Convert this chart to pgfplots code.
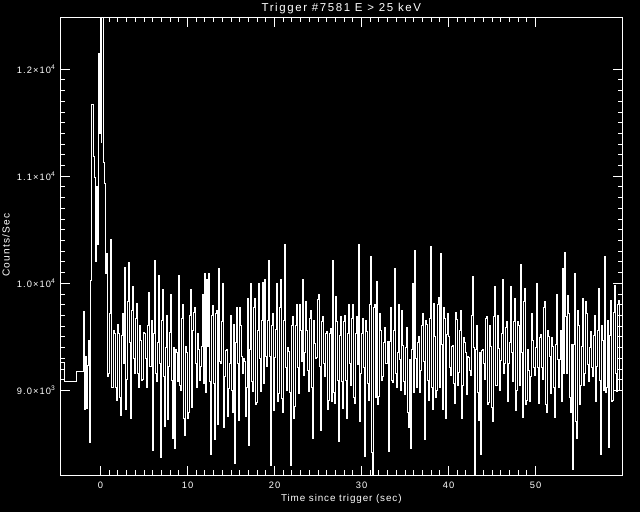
\documentclass[border=0pt]{standalone}
\usepackage{fontspec}
\setmainfont{Liberation Sans}
\usepackage{pgfplots}
\usepackage{pgfplotstable}
\pgfplotsset{compat=1.18}

\pgfplotstableread[header=false,row sep=\\]{
10280\\9130\\9160\\9720\\10410\\9030\\9030\\9560\\9530\\9030\\8910\\9620\\9530\\8930\\8770\\9510\\9720\\9250\\10150\\8820\\9100\\9830\\10190\\9450\\8740\\9750\\9970\\9300\\9160\\9670\\9810\\9160\\9030\\9610\\9470\\9090\\9100\\9540\\9530\\9300\\9030\\9610\\9910\\9220\\9220\\9650\\8440\\9530\\10210\\9160\\9080\\9450\\10070\\9250\\8370\\9650\\9940\\9130\\
8660\\9400\\9700\\8730\\9220\\9540\\9900\\9090\\8550\\9400\\8460\\9380\\9350\\9080\\10070\\9050\\9000\\9670\\9800\\8740\\8580\\9410\\9350\\8740\\8790\\9700\\9940\\8840\\9560\\9730\\9770\\9250\\9030\\9530\\9380\\9090\\9220\\9410\\9900\\9060\\10090\\8980\\10040\\9410\\10090\\9080\\8400\\9700\\9790\\9060\\8540\\9720\\9750\\8680\\10140\\9270\\9250\\9640\\10000\\8650\\9130\\9370\\9380\\8760\\9020\\9250\\9700\\9000\\8790\\9620\\8320\\9450\\9770\\9250\\8720\\9770\\9610\\9320\\9160\\9300\\9270\\8760\\9030\\9860\\8490\\9380\\10000\\9080\\8990\\9770\\
9860\\8870\\8890\\9560\\10000\\9300\\8990\\9650\\10010\\9060\\10040\\9320\\9220\\9650\\10210\\9320\\8300\\9610\\9720\\8810\\9310\\9570\\10000\\8900\\8970\\9770\\10040\\8920\\8790\\9650\\10360\\9210\\9000\\9400\\9360\\8980\\8300\\9610\\9690\\8740\\8850\\9610\\9800\\9210\\8970\\9800\\9560\\9270\\10040\\9140\\9350\\9830\\9560\\9190\\8990\\9670\\9750\\9030\\8550\\9650\\9440\\9300\\9310\\9850\\9900\\9220\\8630\\9640\\9690\\9250\\9130\\9530\\9550\\8820\\8910\\9530\\9580\\8900\\10210\\8980\\8880\\9880\\9640\\9090\\8520\\9510\\9690\\9080\\8830\\9640\\
9700\\9090\\8740\\9530\\9800\\9250\\9050\\9670\\9800\\8930\\8880\\9530\\9690\\9240\\10360\\8710\\9160\\9530\\9670\\9210\\8380\\9650\\9550\\9060\\8910\\9800\\10250\\8420\\8180\\9770\\9800\\8930\\10020\\8870\\8940\\9720\\9560\\9090\\9130\\9450\\9590\\9250\\9250\\9460\\8430\\9460\\9770\\9090\\9070\\9560\\10140\\9160\\9030\\9350\\9800\\9290\\9000\\9750\\9420\\9080\\8960\\9400\\9590\\8790\\8650\\9290\\8460\\9380\\10000\\8980\\10310\\9300\\9030\\9450\\9500\\8980\\9190\\9610\\9720\\9270\\8540\\9650\\9620\\9090\\8910\\9670\\10340\\9030\\8820\\9810\\
9500\\8930\\9000\\9800\\9870\\9030\\10280\\9430\\8820\\9770\\9670\\8740\\9520\\9720\\9500\\9210\\9140\\9410\\9420\\9060\\8880\\9730\\9660\\9050\\9170\\9560\\9750\\8740\\9050\\9490\\9450\\9350\\8960\\9320\\9310\\9190\\9140\\9700\\10060\\9400\\8180\\9380\\9610\\8980\\8720\\9350\\8400\\9370\\9380\\9250\\9100\\9670\\9690\\8870\\8890\\9610\\9410\\8840\\8710\\9690\\9970\\9050\\9050\\9700\\9390\\9000\\9280\\9530\\10040\\9160\\9250\\9590\\9640\\8900\\9250\\9450\\9970\\9350\\9080\\9640\\9860\\8810\\9000\\9640\\9610\\9050\\10180\\9350\\8750\\9830\\
9950\\8870\\8910\\9380\\9190\\8900\\9130\\9720\\9470\\9210\\9140\\9400\\10000\\9210\\8880\\9490\\9520\\9210\\9100\\9770\\9830\\8870\\8790\\9560\\9500\\9320\\8970\\9490\\9410\\9030\\8750\\9430\\9900\\9290\\9030\\9290\\9560\\8900\\10140\\9160\\10290\\9690\\9160\\9890\\9720\\8930\\8790\\9430\\8260\\9430\\10090\\8710\\8550\\9750\\9610\\8870\\9050\\9410\\9860\\9050\\9160\\9830\\9720\\9240\\9080\\9400\\9550\\9210\\9130\\9510\\9700\\8900\\9220\\9560\\9950\\9090\\8400\\9610\\9470\\9000\\10250\\8980\\9030\\9650\\8470\\9510\\9840\\8900\\8910\\9730\\9980\\9160\\8990\\9800\\9840\\9000\\9000\\
}\finedata

\begin{document}
\begin{tikzpicture}
\fill[black] (0,0) rectangle (480pt,384pt);
\begin{axis}[
  at={(45.2pt,27.75pt)}, anchor=south west,
  scale only axis, width=421.6pt, height=343.3pt,
  xmin=-4.63, xmax=59.98, ymin=8210, ymax=12485,
  scaled y ticks=false, scaled x ticks=false,
  axis line style={white, line width=0.75pt},
  every tick/.style={white, line width=0.75pt},
  tick align=inside,
  major tick length=7pt, minor tick length=3.5pt,
  xtick={0,10,20,30,40,50},
  xticklabels={0,10,20,30,40,50},
  minor x tick num=9,
  ytick={9000,10000,11000,12000},
  yticklabels={9.0×10\textsuperscript{3},1.0×10\textsuperscript{4},1.1×10\textsuperscript{4},1.2×10\textsuperscript{4}},
  minor y tick num=9,
  tick label style={white, font=\fontsize{7}{8}\selectfont\addfontfeatures{LetterSpace=12}},
  xticklabel style={yshift=-2pt},
  clip=true,
]
\addplot[white, line width=0.75pt, const plot mark left] coordinates {
(-4.63,9262) (-4.16,9084) (-2.78,9178)
(-1.93,9740) (-1.82,8820) (-1.70,9320) (-1.59,8830) (-1.47,9230) (-1.36,9470)
(-1.24,8510) (-1.13,10030) (-1.03,11670) (-0.80,11180) (-0.72,10990) (-0.60,10200)
(-0.49,10900) (-0.34,10360) (-0.26,12150) (-0.11,11400) (-0.03,12700) (0.12,11320)
(0.16,12700) (0.35,11130) (0.47,10930) (0.59,10090) (0.733,10280)
};
\addplot[white, line width=0.75pt, const plot mark left] table[x expr={0.733+\coordindex*0.11494}, y index=0] {\finedata};
\end{axis}
\node[white, anchor=base, font=\fontsize{8.6}{9}\selectfont\addfontfeatures{LetterSpace=14}] at (256pt,375.5pt) {Trigger \#7581 E > 25 keV};
\node[white, anchor=base, font=\fontsize{7.4}{8}\selectfont\addfontfeatures{LetterSpace=9}] at (256pt,8.25pt) {Time since trigger (sec)};
\node[white, rotate=90, anchor=center, font=\fontsize{7.6}{8}\selectfont\addfontfeatures{LetterSpace=12}] at (4.5pt,200pt) {Counts/Sec};
\pgfresetboundingbox
\path[use as bounding box] (0,0) rectangle (480pt,384pt);
\end{tikzpicture}
\end{document}
